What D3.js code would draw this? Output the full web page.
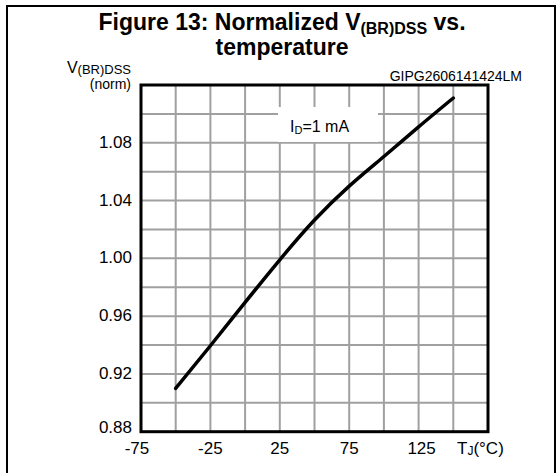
<!DOCTYPE html>
<html>
<head>
<meta charset="utf-8">
<script src="https://cdn.jsdelivr.net/npm/d3@7"></script>
<style>
  body { margin: 0; background: #fff; }
  text { font-family: Arial, "Liberation Sans", sans-serif; fill: #000; }
</style>
</head>
<body>
<div id="chart"></div>
<script>
// data
let temps = [-50, -25, 0, 25, 50, 75, 100, 125, 150];
let vbr = [0.910, 0.9395, 0.9695, 0.999, 1.0265, 1.050, 1.0705, 1.091, 1.111];
let xTicks = [-75, -25, 25, 75, 125];
let yTicks = [0.88, 0.92, 0.96, 1.00, 1.04, 1.08];

let width = 560, height = 473;

let svg = d3.select("#chart")
  .append("svg")
  .attr("width", width)
  .attr("height", height);

// outer frame (bottom runs off the page)
svg.append("rect")
  .attr("x", 7).attr("y", 6)
  .attr("width", 548).attr("height", 490)
  .attr("fill", "none")
  .attr("stroke", "#000")
  .attr("stroke-width", 2);

let x = d3.scaleLinear().domain([-75, 175]).range([141, 488]);
let y = d3.scaleLinear().domain([0.88, 1.12]).range([431.7, 85]);

// grid
let g = svg.append("g");
g.selectAll(".vgrid")
  .data(d3.range(-50, 175, 25))
  .enter().append("line")
  .attr("x1", d => x(d)).attr("x2", d => x(d))
  .attr("y1", y(0.88)).attr("y2", y(1.12))
  .attr("stroke", "#a0a0a0")
  .attr("stroke-width", 2);

g.selectAll(".hgrid")
  .data(d3.range(1, 12).map(i => 0.88 + i * 0.02))
  .enter().append("line")
  .attr("x1", x(-75)).attr("x2", x(175))
  .attr("y1", d => y(d)).attr("y2", d => y(d))
  .attr("stroke", "#a0a0a0")
  .attr("stroke-width", 2);

// label box covers grid
svg.append("rect")
  .attr("x", 278).attr("y", 107)
  .attr("width", 100).attr("height", 35)
  .attr("fill", "#fff");

let lbl = svg.append("text")
  .attr("x", 290).attr("y", 132)
  .style("font-size", "16px");
lbl.append("tspan").text("I");
lbl.append("tspan").attr("dy", 2).style("font-size", "11px").text("D");
lbl.append("tspan").attr("dy", -2).text("=1 mA");

// plot frame
svg.append("rect")
  .attr("x", x(-75)).attr("y", y(1.12))
  .attr("width", x(175) - x(-75))
  .attr("height", y(0.88) - y(1.12))
  .attr("fill", "none")
  .attr("stroke", "#000")
  .attr("stroke-width", 3);

// curve
let line = d3.line()
  .x((d, i) => x(temps[i]))
  .y(d => y(d))
  .curve(d3.curveNatural);

svg.append("path")
  .datum(vbr)
  .attr("d", line)
  .attr("fill", "none")
  .attr("stroke", "#000")
  .attr("stroke-width", 3.5)
  .attr("stroke-linecap", "round");

// tick labels
svg.selectAll(".ylab")
  .data(yTicks)
  .enter().append("text")
  .attr("x", 132)
  .attr("y", (d, i) => y(d) + (i === 0 ? 1.5 : 5))
  .attr("text-anchor", "end")
  .style("font-size", "17px")
  .text(d => d3.format(".2f")(d));

svg.selectAll(".xlab")
  .data(xTicks)
  .enter().append("text")
  .attr("x", d => x(d) + (d === -75 ? -4 : d === 125 ? 3 : 0))
  .attr("y", 454)
  .attr("text-anchor", "middle")
  .style("font-size", "17px")
  .text(d => d);

// axis titles
let xt = svg.append("text")
  .attr("x", 457).attr("y", 454)
  .style("font-size", "17px");
xt.append("tspan").text("T");
xt.append("tspan").attr("dy", 1).style("font-size", "12px").text("J");
xt.append("tspan").attr("dy", -1).text("(°C)");

let yt = svg.append("text")
  .attr("x", 131).attr("y", 73)
  .attr("text-anchor", "end")
  .style("font-size", "16px");
yt.append("tspan").text("V");
yt.append("tspan").attr("dy", 1).style("font-size", "13px").text("(BR)DSS");

svg.append("text")
  .attr("x", 131).attr("y", 89)
  .attr("text-anchor", "end")
  .style("font-size", "14px")
  .text("(norm)");

svg.append("text")
  .attr("x", 522).attr("y", 81)
  .attr("text-anchor", "end")
  .style("font-size", "14px")
  .text("GIPG2606141424LM");

// title
let t1 = svg.append("text")
  .attr("x", 282).attr("y", 30)
  .attr("text-anchor", "middle")
  .style("font-size", "23px")
  .style("font-weight", "bold");
t1.append("tspan").text("Figure 13: Normalized V");
t1.append("tspan").attr("dy", 4).style("font-size", "16px").text("(BR)DSS");
t1.append("tspan").attr("dy", -4).text(" vs.");

svg.append("text")
  .attr("x", 282).attr("y", 55)
  .attr("text-anchor", "middle")
  .style("font-size", "23px")
  .style("font-weight", "bold")
  .text("temperature");
</script>
</body>
</html>
